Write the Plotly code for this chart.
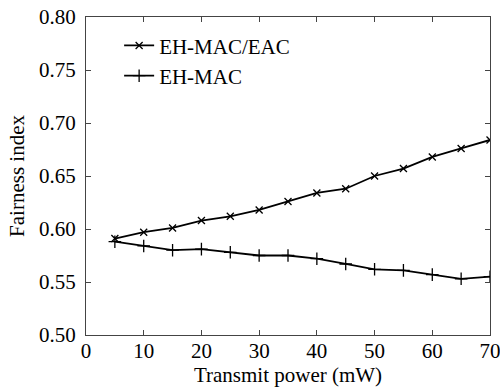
import plotly.graph_objects as go

power = [5, 10, 15, 20, 25, 30, 35, 40, 45, 50, 55, 60, 65, 70]
eh_mac_eac = [0.591, 0.597, 0.601, 0.608, 0.612, 0.618, 0.626, 0.634, 0.638, 0.650, 0.657, 0.668, 0.676, 0.684]
eh_mac = [0.588, 0.584, 0.580, 0.581, 0.578, 0.575, 0.575, 0.572, 0.567, 0.562, 0.561, 0.557, 0.553, 0.555]

font = dict(family="Liberation Serif, Times New Roman, serif", size=21, color="black")

fig = go.Figure()
fig.add_trace(go.Scatter(
    x=power, y=eh_mac_eac, mode="lines+markers", name="EH-MAC/EAC",
    line=dict(color="black", width=1.8),
    marker=dict(symbol="x-thin", size=7, line=dict(color="black", width=1.3)),
))
fig.add_trace(go.Scatter(
    x=power, y=eh_mac, mode="lines+markers", name="EH-MAC",
    line=dict(color="black", width=1.8),
    marker=dict(symbol="cross-thin", size=9, line=dict(color="black", width=1.3)),
))

axis_common = dict(
    showline=True, linecolor="#444", linewidth=1.2, mirror="ticks",
    ticks="inside", ticklen=5, tickcolor="#444", showgrid=False, zeroline=False,
    tickfont=font, automargin=False, ticklabeloverflow="allow",
)
fig.update_xaxes(range=[0, 70], dtick=10, ticklabelstandoff=-3,
                 title=dict(text="Transmit power (mW)", font=font, standoff=0), **axis_common)
fig.update_yaxes(range=[0.50, 0.80], dtick=0.05, tickformat=".2f", ticklabelstandoff=5,
                 title=dict(text="Fairness index", font=font, standoff=8), **axis_common)

fig.update_layout(
    width=500, height=390,
    margin=dict(l=86, r=10, t=17, b=55),
    plot_bgcolor="white", paper_bgcolor="white",
    font=font,
    showlegend=True,
    legend=dict(x=0.082, y=0.974, xanchor="left", yanchor="top", bgcolor="rgba(0,0,0,0)",
                font=font, tracegroupgap=0, itemwidth=30),
)

# remove the default 8px body margin so the figure fills the window exactly
fig.write_html("out.html", config={"displayModeBar": False},
               post_script="document.body.style.margin='0';document.body.style.overflow='hidden';")
